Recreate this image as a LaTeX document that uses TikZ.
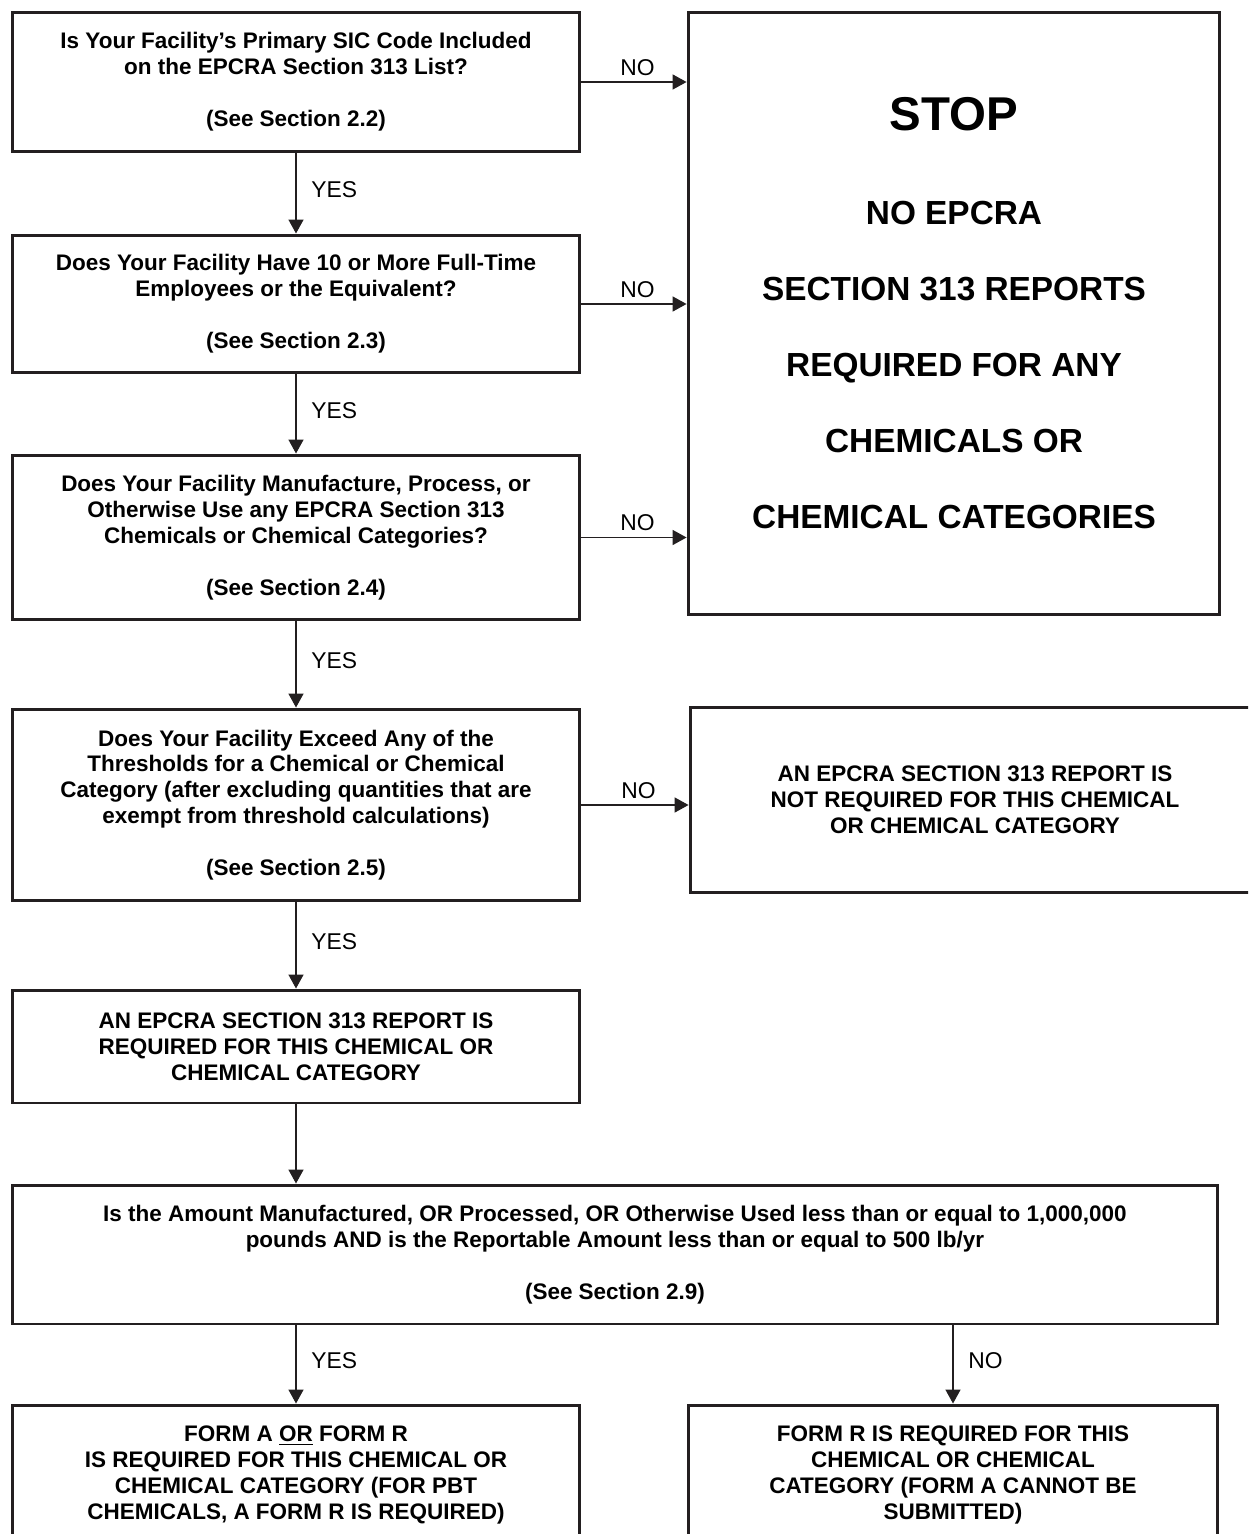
\documentclass[tikz,border=0pt]{standalone}
\usepackage{fontspec}
\setmainfont{Liberation Sans}
\usetikzlibrary{arrows.meta}
\definecolor{ink}{RGB}{35,31,32}

\begin{document}
\begin{tikzpicture}[x=0.02cm, y=-0.02cm,
    %Option for the arrow tips
    >={Triangle[length=7.9pt,width=8.5pt]}, %
    box/.style={draw=ink, line width=1.7pt, align=center, inner sep=0pt,
        font=\bfseries\fontsize{12.8}{14.74}\selectfont},
    qbox/.style={box, minimum width=11.36cm, minimum height=#1},
    link/.style={draw=ink, line width=0.75pt, ->},
    yeslabel/.style={midway, anchor=west, xshift=5pt, yshift=2pt,
        font=\fontsize{13}{15.6}\selectfont},
    nolabel/.style={midway, above, xshift=2pt, font=\fontsize{13}{15.6}\selectfont},
]
    % Frame
    \useasboundingbox (0,0) rectangle (1248,1534);
    \clip (0,0) rectangle (1248,1534);

    % Questions on the left
    \node[qbox=2.8cm] (sic) at (296,82)
        {Is Your Facility’s Primary SIC Code Included\\on the EPCRA Section 313 List?\\[14.74pt](See Section 2.2)};
    \node[qbox=2.76cm] (staff) at (296,304)
        {Does Your Facility Have 10 or More Full-Time\\Employees or the Equivalent?\\[14.74pt](See Section 2.3)};
    \node[qbox=3.3cm] (chem) at (296,537.5)
        {Does Your Facility Manufacture, Process, or\\Otherwise Use any EPCRA Section 313\\Chemicals or Chemical Categories?\\[14.74pt](See Section 2.4)};
    \node[qbox=3.84cm] (thresh) at (296,805)
        {Does Your Facility Exceed Any of the\\Thresholds for a Chemical or Chemical\\Category (after excluding quantities that are\\exempt from threshold calculations)\\[14.74pt](See Section 2.5)};
    \node[qbox=2.26cm] (req) at (296,1046.5)
        {AN EPCRA SECTION 313 REPORT IS\\REQUIRED FOR THIS CHEMICAL OR\\CHEMICAL CATEGORY};

    % Stop and not required
    \node[box, minimum width=10.64cm, minimum height=12.06cm,
        font=\bfseries\fontsize{19}{43.3}\selectfont] (stop) at (954,313.5)
        {{\fontsize{27}{43.3}\selectfont STOP}\\[10pt]NO EPCRA\\SECTION 313 REPORTS\\REQUIRED FOR ANY\\CHEMICALS OR\\CHEMICAL CATEGORIES};
    \node[box, minimum width=11.4cm, minimum height=3.72cm] (notreq) at (975,800)
        {AN EPCRA SECTION 313 REPORT IS\\NOT REQUIRED FOR THIS CHEMICAL\\OR CHEMICAL CATEGORY};

    % Amount question
    \node[box, minimum width=24.12cm, minimum height=2.78cm] (amount) at (615,1254.5)
        {Is the Amount Manufactured, OR Processed, OR Otherwise Used less than or equal to 1,000,000\\pounds AND is the Reportable Amount less than or equal to 500 lb/yr\\[14.74pt](See Section 2.9)};

    % Forms
    \node[qbox=2.8cm] (formar) at (296,1475)
        {FORM A \underline{OR} FORM R\\IS REQUIRED FOR THIS CHEMICAL OR\\CHEMICAL CATEGORY (FOR PBT\\CHEMICALS, A FORM R IS REQUIRED)};
    \node[box, minimum width=10.6cm, minimum height=2.8cm] (formr) at (953,1475)
        {FORM R IS REQUIRED FOR THIS\\CHEMICAL OR CHEMICAL\\CATEGORY (FORM A CANNOT BE\\SUBMITTED)};

    % YES links
    \draw[link] (sic.south) -- (staff.north) node[yeslabel] {YES};
    \draw[link] (staff.south) -- (chem.north) node[yeslabel] {YES};
    \draw[link] (chem.south) -- (thresh.north) node[yeslabel] {YES};
    \draw[link] (thresh.south) -- (req.north) node[yeslabel] {YES};
    \draw[link] (req.south) -- (req.south |- amount.north);
    \draw[link] (formar.north |- amount.south) -- (formar.north) node[yeslabel] {YES};

    % NO links
    \draw[link] (sic.east) -- (sic.east -| stop.west) node[nolabel] {NO};
    \draw[link] (staff.east) -- (staff.east -| stop.west) node[nolabel] {NO};
    \draw[link] (chem.east) -- (chem.east -| stop.west) node[nolabel] {NO};
    \draw[link] (thresh.east) -- (thresh.east -| notreq.west) node[nolabel] {NO};
    \draw[link] (formr.north |- amount.south) -- (formr.north) node[yeslabel] {NO};
\end{tikzpicture}
\end{document}
